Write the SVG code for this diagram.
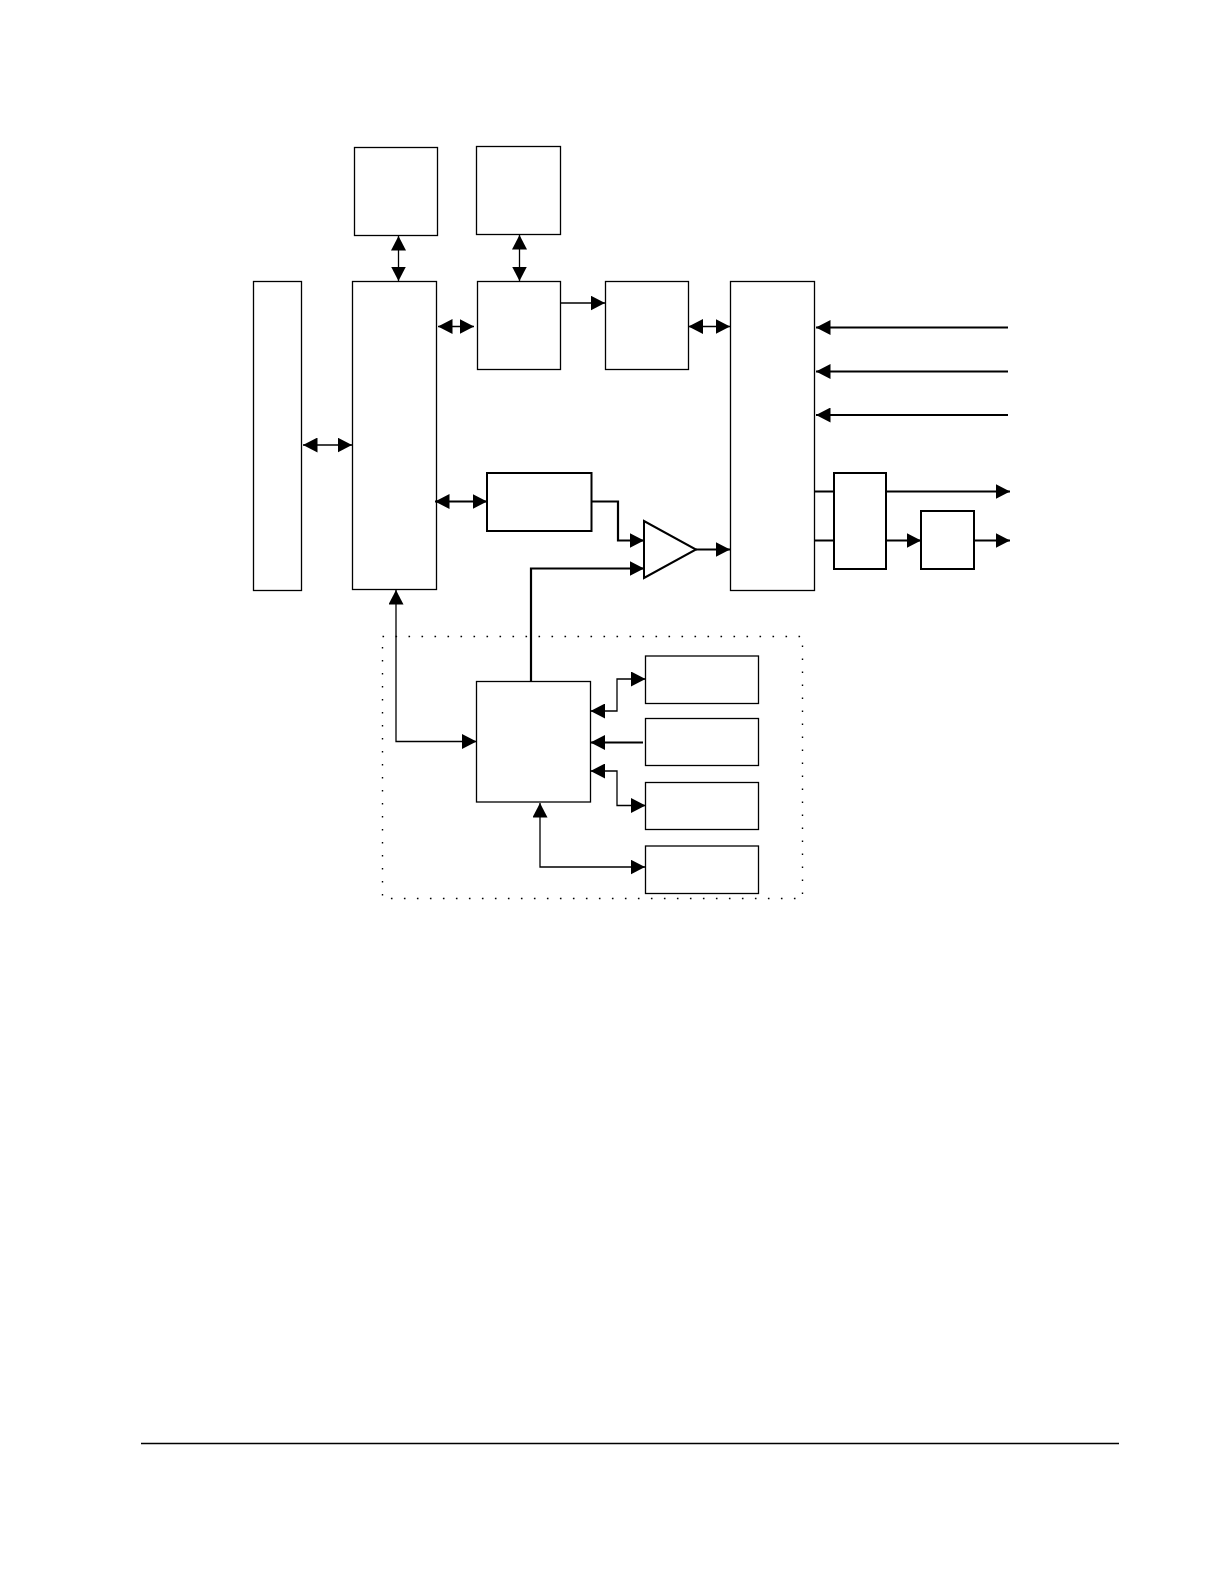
<svg xmlns="http://www.w3.org/2000/svg" width="1225" height="1585" viewBox="0 0 1225 1585">
<style>
.box{fill:#fff;stroke:#000;stroke-width:1.3}
.tbox{fill:#fff;stroke:#000;stroke-width:2}
.ln{fill:none;stroke:#000;stroke-width:1.3}
.tl{fill:none;stroke:#000;stroke-width:2.2}
.dot{fill:none;stroke:#000;stroke-width:1.4;stroke-dasharray:1.6 11.4}
</style>
<defs>
<marker id="ah" markerUnits="userSpaceOnUse" markerWidth="15" markerHeight="15" refX="14.5" refY="7.5" orient="auto-start-reverse" viewBox="0 0 15 15">
<path d="M0,0 L14.5,7.5 L0,15 z" fill="#000"/>
</marker>
</defs>
<rect width="1225" height="1585" fill="#fff"/>
<rect id="group-boundary" class="dot" x="382.5" y="636.5" width="420" height="262"/>
<g id="node-left"><rect class="box" x="253.5" y="281.5" width="48" height="309"/></g>
<g id="node-main"><rect class="box" x="352.5" y="281.5" width="84" height="308"/></g>
<g id="node-top1"><rect class="box" x="354.5" y="147.5" width="83" height="88"/></g>
<g id="node-top2"><rect class="box" x="476.5" y="146.5" width="84" height="88"/></g>
<g id="node-b1"><rect class="box" x="477.5" y="281.5" width="83" height="88"/></g>
<g id="node-b2"><rect class="box" x="605.5" y="281.5" width="83" height="88"/></g>
<g id="node-right"><rect class="box" x="730.5" y="281.5" width="84" height="309"/></g>
<g id="node-mod"><rect class="tbox" x="487" y="473" width="104.5" height="58"/></g>
<g id="node-amp"><polygon class="tbox" points="644,521 644,578 696,549.5"/></g>
<g id="node-d"><rect class="tbox" x="834" y="473" width="52" height="96"/></g>
<g id="node-e"><rect class="tbox" x="921" y="511" width="53" height="58"/></g>
<g id="node-ctrl"><rect class="box" x="476.5" y="681.5" width="114" height="120.5"/></g>
<g id="node-s1"><rect class="box" x="645.5" y="656" width="113" height="47.5"/></g>
<g id="node-s2"><rect class="box" x="645.5" y="718.5" width="113" height="47"/></g>
<g id="node-s3"><rect class="box" x="645.5" y="782.5" width="113" height="47"/></g>
<g id="node-s4"><rect class="box" x="645.5" y="846" width="113" height="47.5"/></g>
<g id="connectors">
<path class="ln" d="M398.5,236 V281" marker-start="url(#ah)" marker-end="url(#ah)"/>
<path class="ln" d="M519.5,235 V281" marker-start="url(#ah)" marker-end="url(#ah)"/>
<path class="ln" d="M560.5,303 H605" marker-end="url(#ah)"/>
<path class="ln" d="M438,326.5 H474" marker-start="url(#ah)" marker-end="url(#ah)"/>
<path class="ln" d="M688.5,326.5 H730" marker-start="url(#ah)" marker-end="url(#ah)"/>
<path class="ln" d="M303,445 H352" marker-start="url(#ah)" marker-end="url(#ah)"/>
<path class="tl" d="M435,501.5 H487" marker-start="url(#ah)" marker-end="url(#ah)"/>
<path class="tl" d="M591.5,501.5 H618 V540.5 H644" marker-end="url(#ah)"/>
<path class="tl" d="M531,681 V568.5 H644" marker-end="url(#ah)"/>
<path class="tl" d="M696,549.5 H730" marker-end="url(#ah)"/>
<path class="tl" d="M1008,327.5 H816" marker-end="url(#ah)"/>
<path class="tl" d="M1008,371.5 H816" marker-end="url(#ah)"/>
<path class="tl" d="M1008,415 H816" marker-end="url(#ah)"/>
<path class="tl" d="M815,491.5 H834 M815,540.5 H834"/>
<path class="tl" d="M886,491.5 H1010" marker-end="url(#ah)"/>
<path class="tl" d="M886,540.5 H921" marker-end="url(#ah)"/>
<path class="tl" d="M974,540.5 H1010" marker-end="url(#ah)"/>
<path class="ln" d="M396,590 V741.5 H476.5" marker-start="url(#ah)" marker-end="url(#ah)"/>
<path class="ln" d="M590.5,711 H617 V679 H645.5" marker-start="url(#ah)" marker-end="url(#ah)"/>
<path class="tl" d="M643,742.5 H590.5" marker-end="url(#ah)"/>
<path class="ln" d="M590.5,771 H617 V805.5 H645.5" marker-start="url(#ah)" marker-end="url(#ah)"/>
<path class="ln" d="M540,803 V867 H645" marker-start="url(#ah)" marker-end="url(#ah)"/>
</g>
<line class="ln" x1="141" y1="1443.5" x2="1119" y2="1443.5"/>
</svg>
